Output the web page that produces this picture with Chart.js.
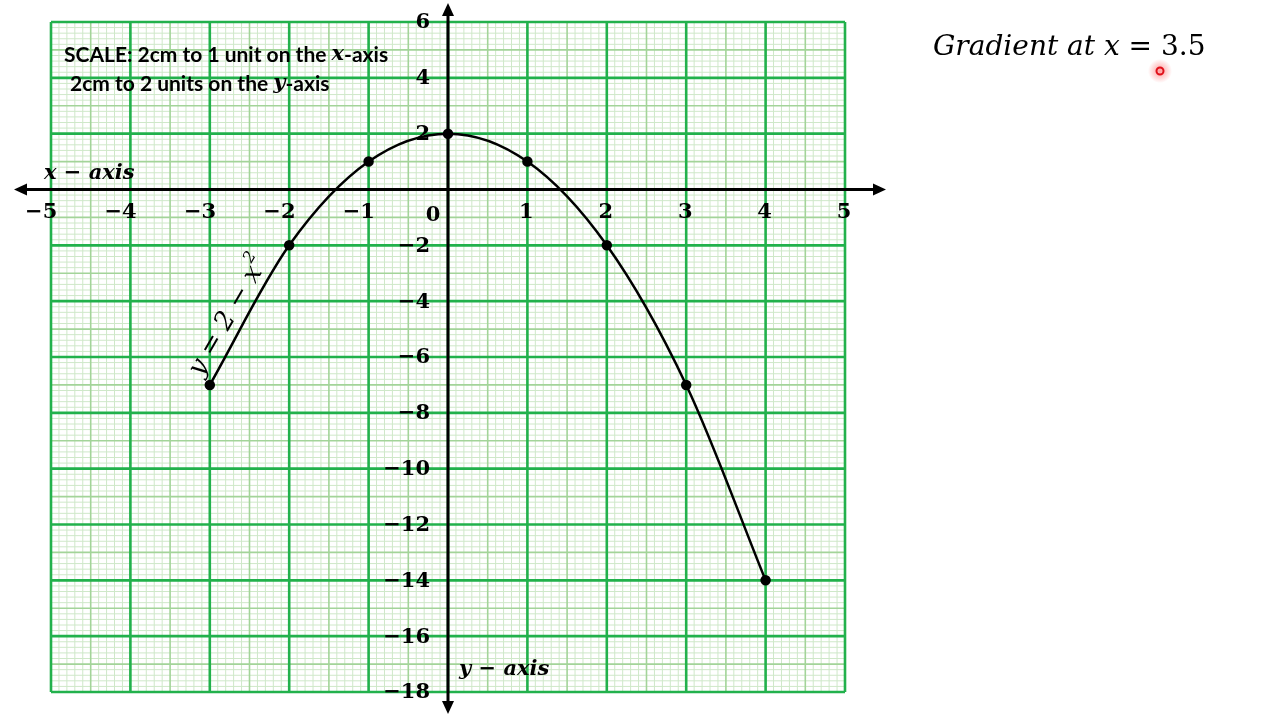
<!DOCTYPE html>
<html>
<head>
<meta charset="utf-8">
<script src="https://cdn.jsdelivr.net/npm/chart.js@4.4.1/dist/chart.umd.min.js"></script>
<style>
html,body{margin:0;padding:0;background:#fff;}
#wrap{width:1280px;height:720px;position:relative;}
canvas{display:block;}
</style>
</head>
<body>
<div id="wrap"><canvas id="c" width="1280" height="720"></canvas></div>
<script>
// ---- data ----
const xValues = [-3, -2, -1, 0, 1, 2, 3, 4];
const yValues = [-7, -2, 1, 2, 1, -2, -7, -14];
const xTickLabels = [-5, -4, -3, -2, -1, 0, 1, 2, 3, 4, 5];
const yTickLabels = [6, 4, 2, -2, -4, -6, -8, -10, -12, -14, -16, -18];
const xRange = [-5, 5];
const yRange = [-18, 6];

const fmt = v => (v < 0 ? '\u2212' + Math.abs(v) : String(v));

const gridPlugin = {
  id: 'graphPaper',
  beforeDatasetsDraw(chart) {
    const ctx = chart.ctx;
    const xs = chart.scales.x, ys = chart.scales.y;
    const L = xs.getPixelForValue(xRange[0]), R = xs.getPixelForValue(xRange[1]);
    const T = ys.getPixelForValue(yRange[1]), B = ys.getPixelForValue(yRange[0]);
    const styles = [
      {c: '#cfe8c9', w: 1},
      {c: '#a3d499', w: 1.6},
      {c: '#22b14c', w: 2.6}
    ];
    ctx.save();
    for (let lvl = 0; lvl < 3; lvl++) {
      ctx.strokeStyle = styles[lvl].c;
      ctx.lineWidth = styles[lvl].w;
      ctx.beginPath();
      for (let i = xRange[0] * 10; i <= xRange[1] * 10; i++) {
        const l = (i % 10 === 0) ? 2 : (i % 5 === 0 ? 1 : 0);
        if (l !== lvl) continue;
        const px = xs.getPixelForValue(i / 10);
        ctx.moveTo(px, T); ctx.lineTo(px, B);
      }
      for (let j = yRange[0] * 5; j <= yRange[1] * 5; j++) {
        const l = (j % 10 === 0) ? 2 : (j % 5 === 0 ? 1 : 0);
        if (l !== lvl) continue;
        const py = ys.getPixelForValue(j / 5);
        ctx.moveTo(L, py); ctx.lineTo(R, py);
      }
      ctx.stroke();
    }
    // axes
    const x0 = xs.getPixelForValue(0), y0 = ys.getPixelForValue(0);
    ctx.strokeStyle = '#000';
    ctx.fillStyle = '#000';
    ctx.lineWidth = 3;
    ctx.beginPath();
    ctx.moveTo(18, y0); ctx.lineTo(882, y0);
    ctx.moveTo(x0, 8); ctx.lineTo(x0, 709);
    ctx.stroke();
    const arrow = (tx, ty, dx, dy) => {
      const len = 13, hw = 6;
      const nx = -dy, ny = dx;
      ctx.beginPath();
      ctx.moveTo(tx, ty);
      ctx.lineTo(tx - dx * len + nx * hw, ty - dy * len + ny * hw);
      ctx.lineTo(tx - dx * len - nx * hw, ty - dy * len - ny * hw);
      ctx.closePath();
      ctx.fill();
    };
    arrow(886, y0, 1, 0);
    arrow(14, y0, -1, 0);
    arrow(x0, 3, 0, -1);
    arrow(x0, 714, 0, 1);

    // tick labels
    ctx.font = 'bold 21px "DejaVu Serif", "Liberation Serif", serif';
    ctx.textBaseline = 'middle';
    xTickLabels.forEach(v => {
      const px = xs.getPixelForValue(v);
      const s = fmt(v);
      if (v === 0) {
        ctx.textAlign = 'center';
        ctx.fillText(s, px - 15, y0 + 26);
        return;
      }
      const dw = ctx.measureText(String(Math.abs(v))).width;
      ctx.textAlign = 'right';
      ctx.fillText(s, px + dw / 2 - 1, y0 + 23);
    });
    ctx.textAlign = 'right';
    yTickLabels.forEach(v => {
      const py = ys.getPixelForValue(v);
      ctx.fillText(fmt(v), x0 - 18, py + 1);
    });
    ctx.restore();
  },
  afterDatasetsDraw(chart) {
    const ctx = chart.ctx;
    ctx.save();
    ctx.fillStyle = '#000';
    ctx.textBaseline = 'middle';
    ctx.textAlign = 'left';
    // axis names
    ctx.font = 'bold italic 21px "DejaVu Serif", "Liberation Serif", serif';
    ctx.fillText('x \u2212 axis', 44, 174);
    ctx.fillText('y \u2212 axis', 459, 670);

    // scale note
    const drawMixed = (parts, x, y) => {
      parts.forEach(p => {
        ctx.font = p[1];
        ctx.fillText(p[0], x, y);
        x += ctx.measureText(p[0]).width;
      });
    };
    const fb = 'bold 21px Lato, "Open Sans", sans-serif';
    const fi = 'bold italic 21px "DejaVu Serif", serif';
    drawMixed([['SCALE: 2cm to 1 unit on the ', fb], ['x', fi], ['-axis', fb]], 64, 55);
    drawMixed([['2cm to 2 units on the ', fb], ['y', fi], ['-axis', fb]], 70, 84);

    // curve label
    ctx.save();
    ctx.translate(229, 316);
    ctx.rotate(-Math.PI / 3);
    ctx.font = 'italic 26px "DejaVu Serif", "Liberation Serif", serif';
    ctx.textAlign = 'left';
    const txt = 'y = 2 \u2212 x';
    const w = ctx.measureText(txt).width;
    ctx.fillText(txt, -w / 2 - 6, 0);
    ctx.font = 'italic 16px "DejaVu Serif", "Liberation Serif", serif';
    ctx.fillText('2', w / 2 - 5, -11);
    ctx.restore();

    // title on right
    ctx.font = 'italic 28px "DejaVu Serif", "Liberation Serif", serif';
    const t1 = 'Gradient at x = ';
    ctx.fillText(t1, 933, 48);
    const w1 = ctx.measureText(t1).width;
    ctx.font = '28px "DejaVu Serif", "Liberation Serif", serif';
    ctx.fillText('3.5', 933 + w1, 48);

    // cursor highlight
    const g = ctx.createRadialGradient(1160, 71, 0, 1160, 71, 12);
    g.addColorStop(0, 'rgba(255,60,60,0.5)');
    g.addColorStop(1, 'rgba(255,60,60,0)');
    ctx.fillStyle = g;
    ctx.beginPath(); ctx.arc(1160, 71, 12, 0, Math.PI * 2); ctx.fill();
    ctx.strokeStyle = '#e0101a';
    ctx.lineWidth = 2;
    ctx.beginPath(); ctx.arc(1160, 71, 3.5, 0, Math.PI * 2); ctx.stroke();
    ctx.restore();
  }
};

new Chart(document.getElementById('c'), {
  type: 'line',
  data: {
    datasets: [{
      data: xValues.map((x, i) => ({x: x, y: yValues[i]})),
      borderColor: '#000',
      borderWidth: 2.5,
      pointRadius: 4,
      pointBackgroundColor: '#000',
      pointBorderColor: '#000',
      cubicInterpolationMode: 'monotone',
      fill: false
    }]
  },
  options: {
    responsive: false,
    animation: false,
    devicePixelRatio: 1,
    layout: {padding: {left: 51, right: 435, top: 22, bottom: 28}},
    plugins: {legend: {display: false}, tooltip: {enabled: false}},
    scales: {
      x: {type: 'linear', min: xRange[0], max: xRange[1], display: false},
      y: {type: 'linear', min: yRange[0], max: yRange[1], display: false}
    }
  },
  plugins: [gridPlugin]
});
</script>
</body>
</html>
